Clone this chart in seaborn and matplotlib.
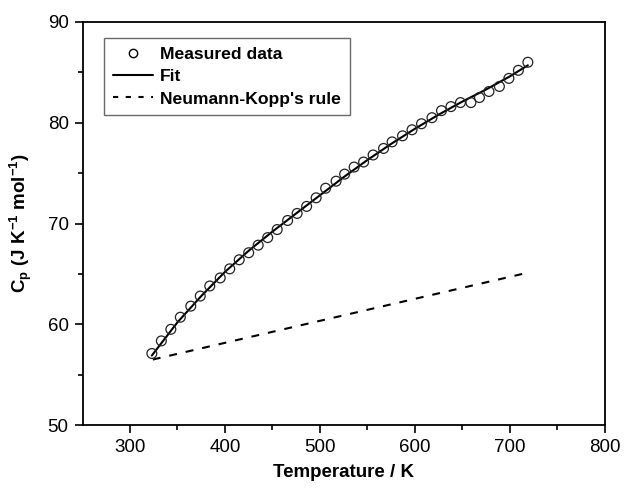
import matplotlib
matplotlib.use("Agg")
import matplotlib.pyplot as plt
import seaborn as sns
import pandas as pd
from matplotlib.lines import Line2D

# Measured data
temp_meas = [323, 333, 343, 353, 364, 374, 384, 395, 405, 415,
             425, 435, 445, 455, 466, 476, 486, 496, 506, 517,
             526, 536, 546, 556, 567, 576, 587, 597, 607, 618,
             628, 638, 648, 659, 668, 678, 689, 699, 709, 719]
cp_meas = [57.1, 58.35, 59.5, 60.7, 61.8, 62.8, 63.8, 64.6, 65.5, 66.4,
           67.1, 67.85, 68.6, 69.4, 70.3, 71.0, 71.7, 72.55, 73.5, 74.2,
           74.9, 75.6, 76.1, 76.8, 77.45, 78.1, 78.7, 79.3, 79.9, 80.5,
           81.2, 81.6, 82.0, 82.0, 82.5, 83.1, 83.6, 84.4, 85.2, 86.0]

# Fit curve
temp_fit = [323, 350, 375, 400, 425, 450, 475, 500, 525, 550,
            575, 600, 625, 650, 675, 700, 719]
cp_fit = [56.9, 60.2, 62.8, 65.2, 67.3, 69.2, 71.0, 72.8, 74.6, 76.3,
          77.9, 79.4, 80.8, 82.1, 83.3, 84.6, 85.7]

# Neumann-Kopp's rule
temp_nk = [324, 718]
cp_nk = [56.5, 65.1]

x_ticks = [300, 400, 500, 600, 700, 800]
y_ticks = [50, 60, 70, 80, 90]

sns.set_theme(style="ticks")
plt.rcParams['font.family'] = ['Liberation Sans', 'DejaVu Sans']
plt.rcParams['mathtext.fontset'] = 'custom'
plt.rcParams['mathtext.rm'] = 'Liberation Sans'
plt.rcParams['mathtext.bf'] = 'Liberation Sans:bold'
plt.rcParams['mathtext.it'] = 'Liberation Sans:italic'
plt.rcParams['text.color'] = 'black'
plt.rcParams['axes.labelcolor'] = 'black'

fig = plt.figure(figsize=(6.3, 4.88), dpi=100)
ax = fig.add_axes([0.131, 0.129, 0.829, 0.826])

df_meas = pd.DataFrame({"T": temp_meas, "Cp": cp_meas})
df_fit = pd.DataFrame({"T": temp_fit, "Cp": cp_fit})
df_nk = pd.DataFrame({"T": temp_nk, "Cp": cp_nk})

sns.lineplot(data=df_fit, x="T", y="Cp", ax=ax, color="black", lw=1.5,
             sort=False, estimator=None, zorder=2)
sns.lineplot(data=df_nk, x="T", y="Cp", ax=ax, color="black", lw=1.5,
             sort=False, estimator=None, dashes=False, zorder=2)
ax.lines[-1].set_linestyle((0, (3.8, 4.3)))
sns.scatterplot(data=df_meas, x="T", y="Cp", ax=ax, marker="o", s=50,
                facecolor="none", edgecolor="#222222", linewidth=0.9, zorder=3)

ax.set_xlim(250, 800)
ax.set_ylim(50, 90)
ax.set_xticks(x_ticks)
ax.set_yticks(y_ticks)
ax.set_xticks([350, 450, 550, 650, 750], minor=True)
ax.set_yticks([55, 65, 75, 85], minor=True)
ax.tick_params(axis='both', which='major', direction='out', length=6, width=1.2,
               labelsize=13.5, colors='black', pad=4)
ax.tick_params(axis='both', which='minor', direction='out', length=3.5, width=1.2,
               colors='black')
ax.tick_params(top=False, right=False, which='both')
for s in ax.spines.values():
    s.set_visible(True)
    s.set_linewidth(1.3)
    s.set_color('black')

ax.set_xlabel("Temperature / K", fontsize=13.5, fontweight='bold', labelpad=6)
ax.set_ylabel(r"$\mathbf{C_p\ (J\ K^{-1}\ mol^{-1})}$", fontsize=13.5, labelpad=10)

handles = [
    Line2D([], [], marker='o', linestyle='none', markerfacecolor='none',
           markeredgecolor='black', markersize=6, markeredgewidth=1.0),
    Line2D([], [], color='black', lw=1.5),
    Line2D([], [], color='black', lw=1.5, linestyle=(0, (2.5, 3.6))),
]
labels = ["Measured data", "Fit", "Neumann-Kopp's rule"]
leg = ax.legend(handles, labels, loc='upper left', bbox_to_anchor=(0.041, 0.96),
                borderaxespad=0, frameon=True, fancybox=False, shadow=False,
                handlelength=2.3, handletextpad=0.4, labelspacing=0.4,
                borderpad=0.5, prop={'weight': 'bold', 'size': 12.6})
leg.get_frame().set_edgecolor('#444444')
leg.get_frame().set_linewidth(1.0)
for t in leg.get_texts():
    t.set_color('black')

fig.savefig("out.png", dpi=100)
